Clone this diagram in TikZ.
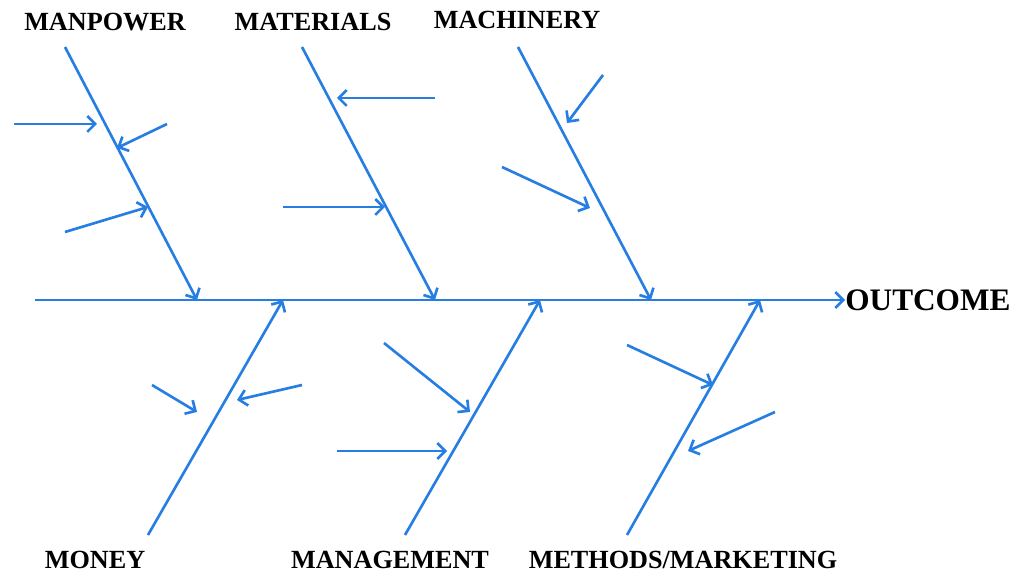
\documentclass[tikz,border=0pt]{standalone}
\usepackage{fontspec}
\setmainfont{Liberation Serif}
\usepackage{xcolor}
\usetikzlibrary{arrows,arrows.meta,positioning}
\definecolor{fishblue}{RGB}{38,126,226}

\tikzset{
  bone/.style={draw=fishblue,line width=1.5pt,-{Straight Barb[length=4.5pt,width=9pt]}},
  cause/.style={draw=fishblue,line width=1.5pt,-{Straight Barb[length=4.5pt,width=9pt]}},
  cat/.style={inner sep=0pt,font=\fontsize{14.9}{16}\selectfont\bfseries}
}

\begin{document}
\begin{tikzpicture}
  \useasboundingbox (0,-5.5) rectangle (20.44,6);

  % head and spine
  \node[inner sep=0pt,anchor=west,font=\fontsize{17.8}{19}\selectfont\bfseries] (out) at (16.9,0) {OUTCOME};
  \coordinate (tail) at (0.7,0);
  \draw[bone] (tail) -- (out.west);

  % category labels
  \node[cat] (manpower) at (2.1,5.56) {MANPOWER};
  \node[cat] (materials) at (6.26,5.56) {MATERIALS};
  \node[cat] (machinery) at (10.34,5.6) {MACHINERY};
  \node[cat] (money) at (1.9,-5.2) {MONEY};
  \node[cat] (management) at (7.8,-5.2) {MANAGEMENT};
  \node[cat] (methods) at (13.66,-5.2) {METHODS/MARKETING};

  % bones
  \coordinate (mp1) at (1.3,5.06);   \coordinate (mp2) at (3.94,0);
  \coordinate (ma1) at (6.04,5.06);  \coordinate (ma2) at (8.7,0);
  \coordinate (mc1) at (10.36,5.06); \coordinate (mc2) at (13.02,0);
  \coordinate (mo1) at (2.96,-4.7);  \coordinate (mo2) at (5.66,0);
  \coordinate (mg1) at (8.1,-4.7);   \coordinate (mg2) at (10.8,0);
  \coordinate (mm1) at (12.54,-4.7); \coordinate (mm2) at (15.2,0);

  \draw[bone] (mp1) -- (mp2);
  \draw[bone] (ma1) -- (ma2);
  \draw[bone] (mc1) -- (mc2);
  \draw[bone] (mo1) -- (mo2);
  \draw[bone] (mg1) -- (mg2);
  \draw[bone] (mm1) -- (mm2);

  % causes
  \coordinate (c1) at (0.28,3.52);  \coordinate (c1t) at (1.94,3.52);
  \coordinate (c2) at (3.34,3.52);  \coordinate (c2t) at (2.34,3.04);
  \coordinate (c3) at (1.3,1.36);   \coordinate (c3t) at (2.96,1.86);
  \coordinate (c4) at (8.7,4.04);   \coordinate (c4t) at (6.74,4.04);
  \coordinate (c5) at (5.66,1.86);  \coordinate (c5t) at (7.7,1.86);
  \coordinate (c6) at (12.06,4.5);  \coordinate (c6t) at (11.34,3.54);
  \coordinate (c7) at (10.04,2.66); \coordinate (c7t) at (11.8,1.84);
  \coordinate (c8) at (3.04,-1.7);  \coordinate (c8t) at (3.94,-2.24);
  \coordinate (c9) at (6.04,-1.7);  \coordinate (c9t) at (4.74,-2.0);
  \coordinate (c10) at (7.68,-0.86); \coordinate (c10t) at (9.4,-2.24);
  \coordinate (c11) at (6.74,-3.02); \coordinate (c11t) at (8.94,-3.02);
  \coordinate (c12) at (12.54,-0.9); \coordinate (c12t) at (14.26,-1.7);
  \coordinate (c13) at (15.5,-2.24); \coordinate (c13t) at (13.76,-3.02);

  \foreach \i in {1,...,13}
    \draw[cause] (c\i) -- (c\i t);
\end{tikzpicture}
\end{document}
